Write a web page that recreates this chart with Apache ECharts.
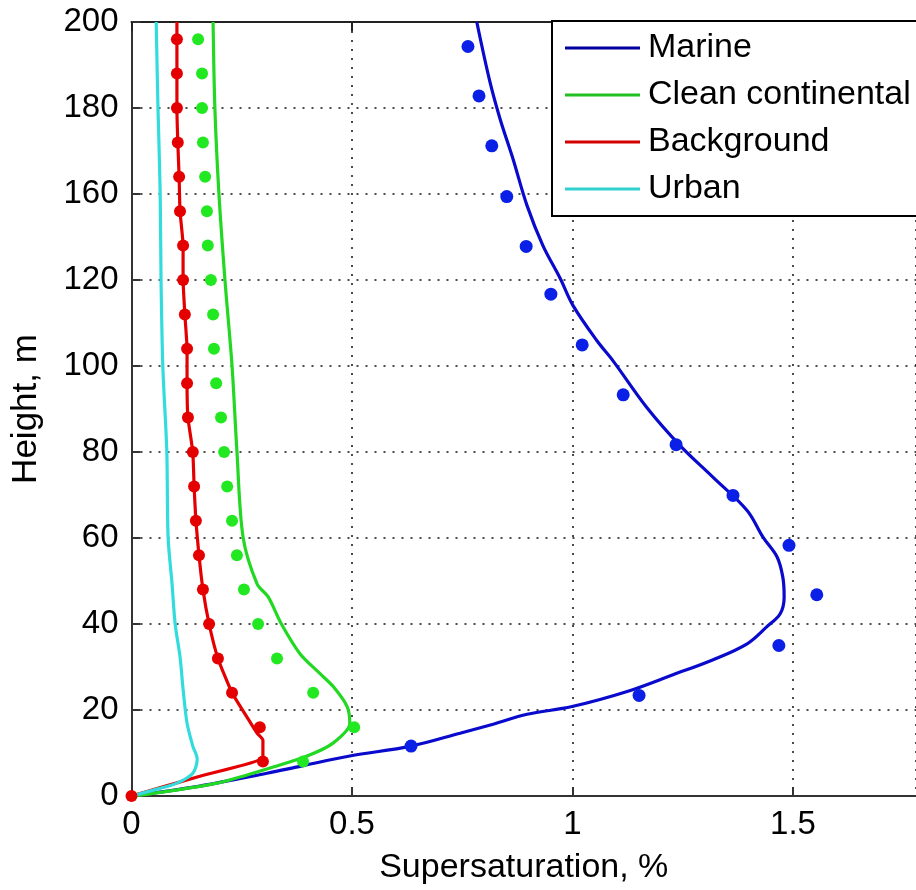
<!DOCTYPE html>
<html>
<head>
<meta charset="utf-8">
<script src="https://cdn.jsdelivr.net/npm/echarts@6/dist/echarts.min.js"></script>
<style>
  html, body { margin: 0; padding: 0; background: #fff; }
  #main { width: 916px; height: 890px; }
</style>
</head>
<body>
<div id="main"></div>
<script>
// tick labels as printed on the height axis (one step per grid row)
var yTickLabels = ['0', '20', '40', '60', '80', '100', '120', '160', '180', '200'];
var xTickLabels = ['0', '0.5', '1', '1.5'];
var seriesNames = ['Marine', 'Clean continental', 'Background', 'Urban'];

// [supersaturation %, height in grid units]
var marineLine = [[0, 0], [0.155, 2.3], [0.307, 5.3], [0.382, 6.9], [0.495, 9.3], [0.634, 11.6],
  [0.745, 14.6], [0.820, 16.7], [0.897, 19.0], [0.999, 20.8], [1.124, 24.3], [1.228, 28.2],
  [1.319, 31.7], [1.396, 35.4], [1.441, 39.4], [1.471, 42.4], [1.480, 46.3], [1.477, 50.9],
  [1.464, 55.6], [1.432, 60.2], [1.396, 66.4], [1.319, 74.1], [1.244, 81.5], [1.169, 90.3],
  [1.092, 101.2], [1.056, 105.8], [1.001, 114.1], [0.972, 120.4], [0.933, 128.0], [0.897, 137.3],
  [0.865, 148.2], [0.836, 157.4], [0.813, 166.0], [0.783, 180]];
var marineDots = [[0.634, 11.6], [1.151, 23.4], [1.468, 35.0], [1.554, 46.8], [1.491, 58.3],
  [1.364, 69.9], [1.235, 81.7], [1.115, 93.3], [1.022, 104.9], [0.951, 116.7], [0.895, 127.8],
  [0.851, 139.4], [0.817, 151.2], [0.788, 162.8], [0.763, 174.3]];

var cleanLine = [[0, 0], [0.042, 0.5], [0.194, 3.0], [0.307, 6.3], [0.398, 9.3], [0.457, 12.3],
  [0.495, 16.9], [0.489, 20.8], [0.457, 25.5], [0.427, 28.5], [0.382, 33.1], [0.340, 40.0],
  [0.310, 46.3], [0.285, 49.3], [0.253, 60.2], [0.239, 80.3], [0.228, 100], [0.212, 119.9],
  [0.198, 140.5], [0.189, 160.2], [0.185, 180]];
var cleanDots = [[0.389, 8], [0.505, 16], [0.412, 24], [0.330, 32], [0.287, 40], [0.255, 48],
  [0.239, 56], [0.228, 64], [0.217, 72], [0.210, 80], [0.203, 88], [0.192, 96], [0.187, 104],
  [0.185, 112], [0.180, 120], [0.173, 128], [0.171, 136], [0.167, 144], [0.162, 152],
  [0.160, 160], [0.160, 168], [0.151, 176]];

var backgroundLine = [[0, 0], [0.155, 4.6], [0.298, 9.0], [0.298, 13.0], [0.285, 14.6], [0.270, 17],
  [0.228, 24], [0.196, 32], [0.176, 40], [0.162, 48], [0.153, 56], [0.146, 64], [0.142, 72],
  [0.139, 80], [0.128, 88], [0.126, 96], [0.126, 104], [0.121, 112], [0.117, 120], [0.117, 128],
  [0.110, 136], [0.108, 144], [0.105, 152], [0.103, 160], [0.103, 168], [0.103, 176], [0.103, 180]];
var backgroundDots = [[0, 0], [0.298, 8], [0.291, 16], [0.228, 24], [0.196, 32], [0.176, 40],
  [0.162, 48], [0.153, 56], [0.146, 64], [0.142, 72], [0.139, 80], [0.128, 88], [0.126, 96],
  [0.126, 104], [0.121, 112], [0.117, 120], [0.117, 128], [0.110, 136], [0.108, 144],
  [0.105, 152], [0.103, 160], [0.103, 168], [0.103, 176]];

var urbanLine = [[0, 0], [0.058, 1.6], [0.103, 3.0], [0.139, 5.3], [0.149, 8.6], [0.139, 11.6],
  [0.126, 16.9], [0.117, 24.8], [0.110, 32.4], [0.099, 40.0], [0.092, 49.3], [0.083, 60.2],
  [0.080, 80.3], [0.071, 100], [0.067, 119.9], [0.065, 140.5], [0.060, 160.2], [0.056, 180]];

var colors = ['#0a0acd', '#22d822', '#e40000', '#33dcdc'];
var legendColors = ['#0000a0', '#22c022', '#d40000', '#33d0d0'];
var font = 'Liberation Sans';
var xMax = 1.779; // the plot is cut at the right edge of the picture

var myChart = echarts.init(document.getElementById('main'));

function lineSeries(name, data, color, legendColor, smooth) {
  return {
    name: name, type: 'line', data: data, showSymbol: false, smooth: smooth,
    lineStyle: { color: color, width: 3.2 }, itemStyle: { color: legendColor },
    silent: true, animation: false, z: 3
  };
}
function dotSeries(name, data, color, size) {
  return {
    name: name, type: 'scatter', data: data, symbol: 'circle', symbolSize: size,
    itemStyle: { color: color, opacity: 1 }, silent: true, animation: false, z: 4
  };
}

var gridLine = { show: true, lineStyle: { color: '#111', width: 1.5, type: [2, 7] } };

function xLabel(v) {
  var i = Math.round(v / 0.5);
  return Math.abs(v - i * 0.5) < 1e-6 ? (xTickLabels[i] || '') : '';
}

var option = {
  backgroundColor: '#fff',
  grid: { left: 131.5, top: 22, bottom: 90, right: 0 },
  legend: {
    data: seriesNames.map(function (n) { return { name: n, icon: 'rect' }; }),
    orient: 'vertical', left: 552, top: 21,
    itemWidth: 75, itemHeight: 3, itemGap: 7,
    padding: [7, 30, 7, 13],
    backgroundColor: '#fff', borderColor: '#000', borderWidth: 2,
    textStyle: { fontFamily: font, fontSize: 34, color: '#000', lineHeight: 40, padding: [0, 0, 0, 3] },
    selectedMode: false, z: 10
  },
  xAxis: [{
    type: 'value', min: 0, max: xMax, interval: 0.5,
    name: 'Supersaturation, %', nameLocation: 'middle', nameGap: 55,
    nameTextStyle: { fontFamily: font, fontSize: 34, color: '#000' },
    axisLine: { show: true, lineStyle: { color: '#333', width: 2 } },
    axisTick: { show: true, inside: true, length: 9, lineStyle: { color: '#333', width: 2 } },
    axisLabel: { fontFamily: font, fontSize: 33, color: '#000', margin: 12, showMaxLabel: false, formatter: xLabel },
    splitLine: gridLine
  }, {
    type: 'value', min: 0, max: xMax, interval: 0.5, position: 'top',
    axisLine: { show: true, lineStyle: { color: '#222', width: 2 } },
    axisTick: { show: true, inside: true, length: 9, lineStyle: { color: '#222', width: 2 } },
    axisLabel: { show: false }, splitLine: { show: false }
  }],
  yAxis: {
    type: 'value', min: 0, max: 180, interval: 20,
    name: 'Height, m', nameLocation: 'middle', nameGap: 88,
    nameTextStyle: { fontFamily: font, fontSize: 35, color: '#000' },
    axisLine: { show: true, lineStyle: { color: '#333', width: 2 } },
    axisTick: { show: true, inside: true, length: 9, lineStyle: { color: '#333', width: 2 } },
    axisLabel: {
      fontFamily: font, fontSize: 33, color: '#000', margin: 13,
      formatter: function (v) { return yTickLabels[Math.round(v / 20)]; }
    },
    splitLine: gridLine
  },
  series: [
    lineSeries('Marine', marineLine, colors[0], legendColors[0], 0.35),
    lineSeries('Clean continental', cleanLine, colors[1], legendColors[1], 0.3),
    lineSeries('Background', backgroundLine, colors[2], legendColors[2], 0.15),
    lineSeries('Urban', urbanLine, colors[3], legendColors[3], 0.3),
    dotSeries('Marine points', marineDots, '#0a20e6', 13),
    dotSeries('Clean continental points', cleanDots, '#22e822', 12),
    dotSeries('Background points', backgroundDots, '#e40000', 12)
  ]
};

myChart.setOption(option);
</script>
</body>
</html>
